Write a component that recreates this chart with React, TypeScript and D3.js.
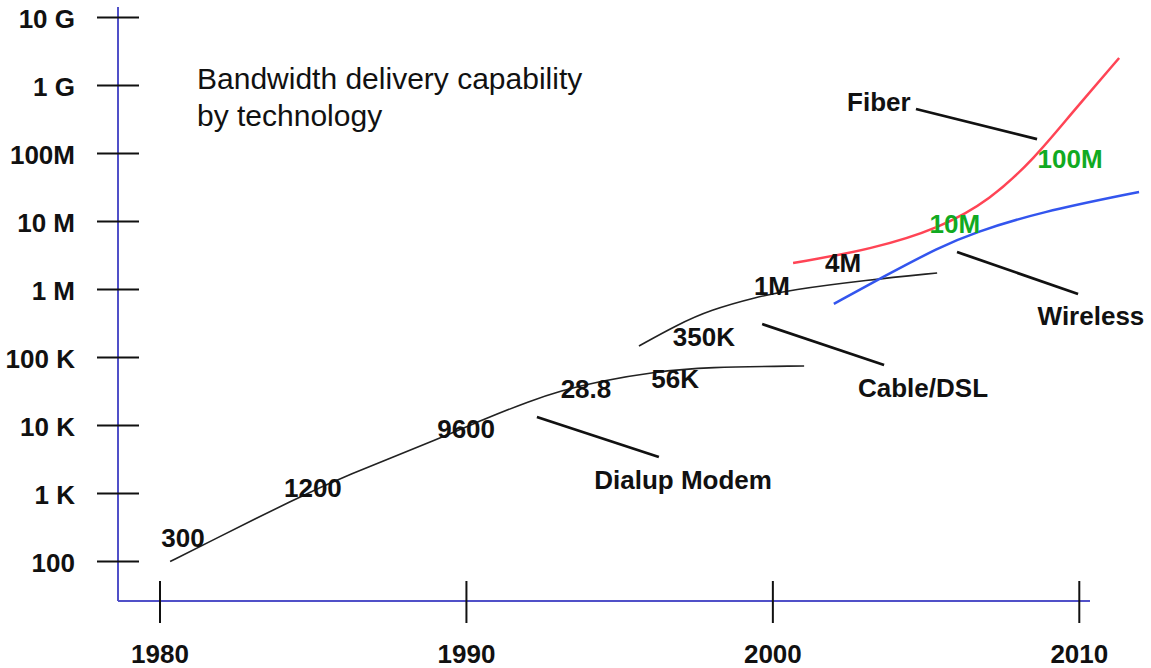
import * as d3 from "d3";

type Pt = [number, number];

// year, bits per second
const DIALUP: Pt[] = [
  [1980.33, 100], [1981.53, 187], [1984.47, 859], [1985.97, 1750],
  [1989.24, 6770], [1990.67, 12900], [1992.07, 22900], [1993.05, 32200],
  [1994.36, 45100], [1996.09, 61200], [1997.85, 72500], [2001.02, 75000],
];
const CABLE: Pt[] = [
  [1995.63, 147600], [1996.87, 301000], [1997.95, 500000], [1999.48, 776000],
  [2000.56, 984000], [2003.07, 1.38e6], [2005.36, 1.75e6],
];
const FIBER: Pt[] = [
  [2000.66, 2.45e6], [2003.27, 3.94e6], [2005.45, 8.02e6], [2007.09, 2.07e7],
  [2008.55, 8.59e7], [2009.7, 3.68e8], [2011.3, 2.54e9],
];
const WIRELESS: Pt[] = [
  [2001.99, 6.13e5], [2003.59, 1.53e6], [2005.45, 4.22e6], [2006.53, 6.78e6],
  [2008.72, 1.38e7], [2011.95, 2.72e7],
];

const LEADERS: [Pt, Pt][] = [
  [[1992.3, 13340], [1996.28, 3440]],
  [[1999.65, 311000], [2003.63, 77600]],
  [[2006.01, 3.56e6], [2009.96, 8.6e5]],
  [[2004.67, 4.51e8], [2008.62, 1.63e8]],
];

const RATE_LABELS: { text: string; at: Pt; green?: boolean }[] = [
  { text: "300", at: [1980.75, 163] },
  { text: "1200", at: [1984.99, 889] },
  { text: "9600", at: [1989.99, 6550] },
  { text: "28.8", at: [1993.9, 25400] },
  { text: "56K", at: [1996.81, 35600] },
  { text: "350K", at: [1997.75, 147600] },
  { text: "1M", at: [1999.97, 830000] },
  { text: "4M", at: [2002.29, 1.81e6] },
  { text: "10M", at: [2005.94, 6.78e6], green: true },
  { text: "100M", at: [2009.7, 6.12e7], green: true },
];

const TECH_LABELS: { text: string; at: Pt }[] = [
  { text: "Fiber", at: [2003.46, 4.22e8] },
  { text: "Wireless", at: [2010.38, 300600] },
  { text: "Cable/DSL", at: [2004.9, 26200] },
  { text: "Dialup Modem", at: [1997.07, 1165] },
];

const Y_TICKS = [1e2, 1e3, 1e4, 1e5, 1e6, 1e7, 1e8, 1e9, 1e10];
const Y_TICK_LABELS = ["100", "1 K", "10 K", "100 K", "1 M", "10 M", "100M", "1 G", "10 G"];
const X_TICKS = [1980, 1990, 2000, 2010];

const W = 1151;
const H = 668;
const FONT = "'Liberation Sans', Arial, Helvetica, sans-serif";

export default function App() {
  const x = d3.scaleLinear().domain([1980, 2010]).range([160, 1079.3]);
  const y = d3.scaleLog().domain([1e2, 1e10]).range([561.5, 17.5]);

  const axisX0 = 118;
  const axisY0 = 601;

  const line = d3
    .line<Pt>()
    .x((d) => x(d[0]))
    .y((d) => y(d[1]))
    .curve(d3.curveBasis);

  return (
    <svg
      width={W}
      height={H}
      style={{ position: "absolute", left: 0, top: 0, background: "#fff" }}
      fontFamily={FONT}
    >
      {/* axes */}
      <line x1={axisX0} x2={axisX0} y1={7} y2={axisY0} stroke="#5050c8" strokeWidth={2} />
      <line x1={axisX0} x2={1090} y1={axisY0} y2={axisY0} stroke="#5050c8" strokeWidth={2} />

      {Y_TICKS.map((t, i) => (
        <g key={t}>
          <line x1={axisX0 - 21} x2={axisX0 + 21} y1={y(t)} y2={y(t)} stroke="#111" strokeWidth={2} />
          <text x={75} y={y(t) + 10} textAnchor="end" fontSize={26} fontWeight="bold" fill="#111">
            {Y_TICK_LABELS[i]}
          </text>
        </g>
      ))}
      {X_TICKS.map((t) => (
        <g key={t}>
          <line x1={x(t)} x2={x(t)} y1={axisY0 - 20} y2={axisY0 + 22} stroke="#111" strokeWidth={2} />
          <text x={x(t)} y={663} textAnchor="middle" fontSize={26} fontWeight="bold" fill="#111">
            {t}
          </text>
        </g>
      ))}

      {/* title */}
      <text fontSize={30} fill="#111">
        <tspan x={197} y={89}>Bandwidth delivery capability</tspan>
        <tspan x={197} y={126}>by technology</tspan>
      </text>

      {/* curves */}
      <path d={line(DIALUP) ?? ""} fill="none" stroke="#222" strokeWidth={1.6} />
      <path d={line(CABLE) ?? ""} fill="none" stroke="#222" strokeWidth={1.6} />
      <path d={line(FIBER) ?? ""} fill="none" stroke="#ff4455" strokeWidth={2.5} />
      <path d={line(WIRELESS) ?? ""} fill="none" stroke="#3355ee" strokeWidth={2.5} />

      {LEADERS.map(([a, b], i) => (
        <line key={i} x1={x(a[0])} y1={y(a[1])} x2={x(b[0])} y2={y(b[1])} stroke="#111" strokeWidth={2.8} />
      ))}

      {RATE_LABELS.map((l) => (
        <text
          key={l.text}
          x={x(l.at[0])}
          y={y(l.at[1])}
          textAnchor="middle"
          fontSize={26}
          fontWeight="bold"
          fill={l.green ? "#11aa22" : "#111"}
        >
          {l.text}
        </text>
      ))}
      {TECH_LABELS.map((l) => (
        <text
          key={l.text}
          x={x(l.at[0])}
          y={y(l.at[1])}
          textAnchor="middle"
          fontSize={26}
          fontWeight="bold"
          fill="#111"
        >
          {l.text}
        </text>
      ))}
    </svg>
  );
}
